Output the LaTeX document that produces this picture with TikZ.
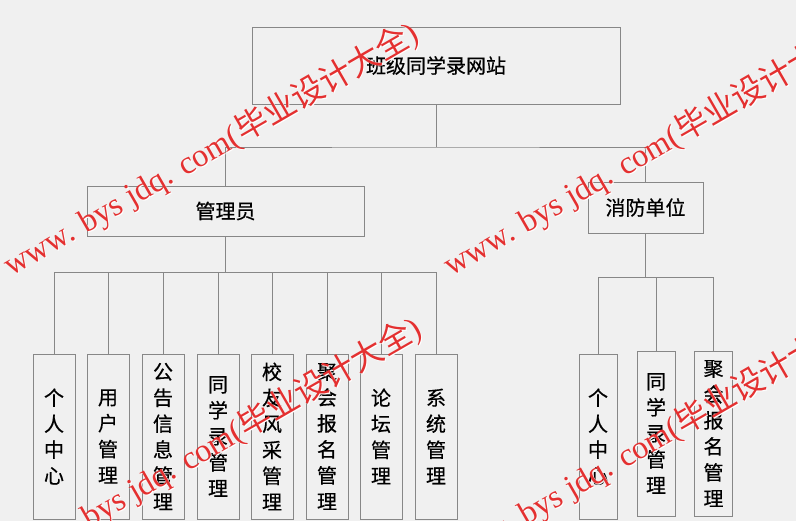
\documentclass[tikz,border=0pt]{standalone}
\usepackage{fontspec}
\usetikzlibrary{calc}
\setmainfont{Noto Sans CJK SC}
\newfontfamily\boxfont{Noto Sans CJK SC}[FakeBold=0.5]
\newfontfamily\wmlatin{Liberation Serif}
\newfontfamily\wmcjk{Noto Sans CJK SC}
\definecolor{bgc}{RGB}{240,240,240}
\definecolor{linec}{RGB}{135,135,135}
\definecolor{wmred}{RGB}{228,48,48}
\tikzset{
  box/.style={draw=linec, line width=0.9pt, fill=bgc, inner sep=0pt, anchor=center,
              font=\boxfont\fontsize{20}{26}\selectfont, align=center},
  vbox/.style={box, minimum height=165pt},
  conn/.style={draw=linec, line width=0.9pt},
  wm/.style={anchor=base west, rotate=30, inner sep=0pt, font=\fontsize{32.5}{32.5}\selectfont},
}
\newcommand{\wmtext}{{\wmlatin www. bys jdq. com(}{\wmcjk 毕业设计大全}{\wmlatin )}}
\begin{document}
\begin{tikzpicture}[x=1pt, y=-1pt]
\useasboundingbox (0,0) rectangle (796,521);
\fill[bgc] (0,0) rectangle (796,521);

% top
\node[box, minimum width=368pt, minimum height=77pt] (top) at (436,65.5) {班级同学录网站};
\node[box, minimum width=277pt, minimum height=50pt] (admin) at (225.5,211) {管理员};
\node[box, minimum width=115pt, minimum height=51pt] (fire) at (645.5,207.5) {消防单位};

% admin children
\node[vbox, minimum width=42pt] (a1) at (54,436.5)  {个\\人\\中\\心};
\node[vbox, minimum width=42pt] (a2) at (108,436.5) {用\\户\\管\\理};
\node[vbox, minimum width=42pt] (a3) at (163,436.5) {公\\告\\信\\息\\管\\理};
\node[vbox, minimum width=42pt] (a4) at (218,436.5) {同\\学\\录\\管\\理};
\node[vbox, minimum width=42pt] (a5) at (272,436.5) {校\\友\\风\\采\\管\\理};
\node[vbox, minimum width=42pt] (a6) at (327,436.5) {聚\\会\\报\\名\\管\\理};
\node[vbox, minimum width=42pt] (a7) at (381,436.5) {论\\坛\\管\\理};
\node[vbox, minimum width=42pt] (a8) at (436,436.5) {系\\统\\管\\理};

% fire children
\node[vbox, minimum width=38pt] (f1) at (598,436.5)   {个\\人\\中\\心};
\node[vbox, minimum width=38pt] (f2) at (656,433.5)   {同\\学\\录\\管\\理};
\node[vbox, minimum width=38pt] (f3) at (713.5,433.5) {聚\\会\\报\\名\\管\\理};

% junctions
\coordinate (j1) at (436,147);
\coordinate (b1) at (225.5,272);
\coordinate (b2) at (645.5,277);

\draw[conn] (top.south) -- (j1);
\draw[conn] (admin.north) |- (j1) -| (fire.north);
\draw[conn] (admin.south) -- (b1);
\foreach \c in {a1,a2,a3,a4,a5,a6,a7,a8} \draw[conn] (b1) -| (\c.north);
\draw[conn] (fire.south) -- (b2);
\foreach \c in {f1,f2,f3} \draw[conn] (b2) -| (\c.north);

% watermarks
\begin{scope}
\clip (0,0) rectangle (796,521);
\foreach \x/\y in {11/277,451/277,14/572,451/569} {
  \node[wm, text=white] at (\x+1,\y+1) {\wmtext};
  \node[wm, text=wmred] at (\x,\y) {\wmtext};
}
\end{scope}
\end{tikzpicture}
\end{document}
